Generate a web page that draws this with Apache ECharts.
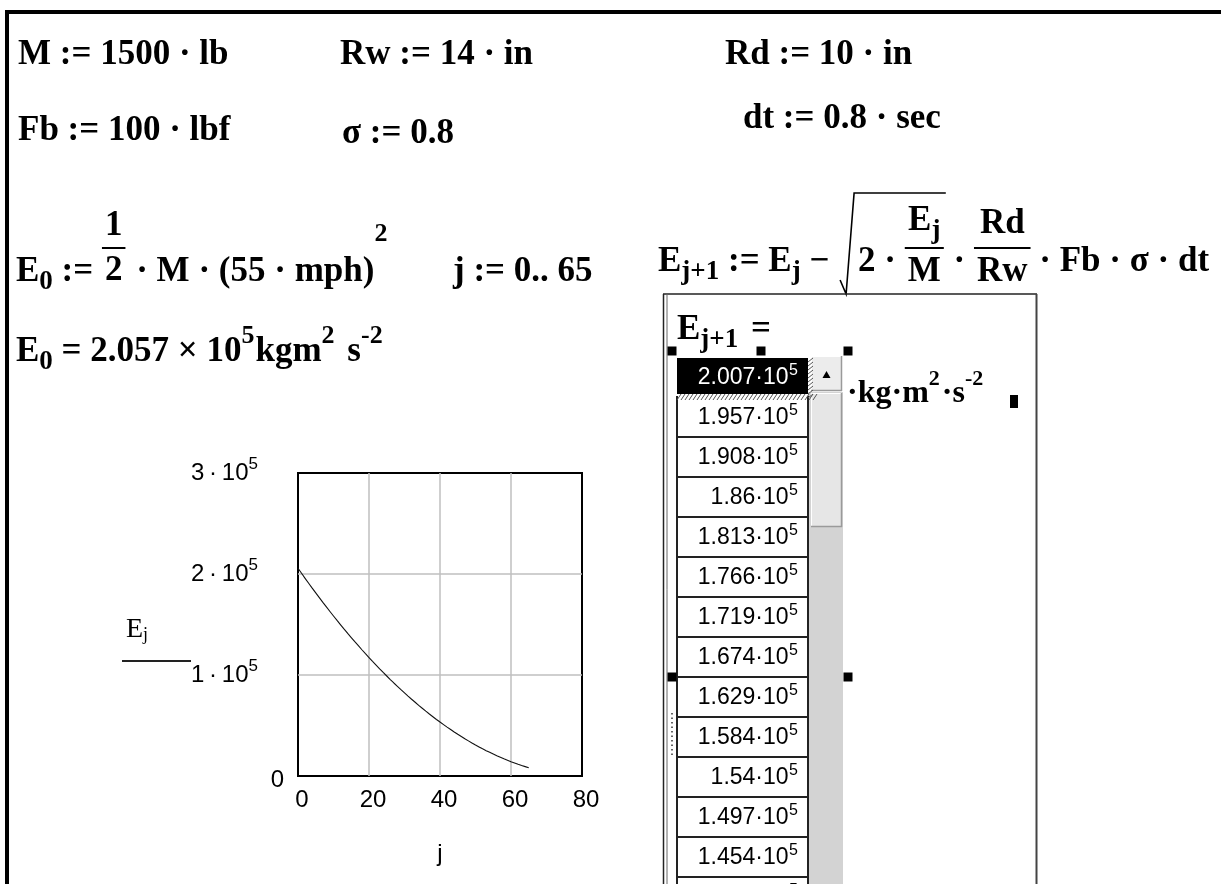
<!DOCTYPE html>
<html><head><meta charset="utf-8"><title>Mathcad energy plot</title>
<script src="https://cdn.jsdelivr.net/npm/echarts@6.0.0/dist/echarts.min.js"></script>
<style>html,body{margin:0;padding:0;background:#fff;overflow:hidden}#chart{width:1221px;height:884px}</style>
</head><body><div id="chart"></div>
<script>
// ---------------- data ----------------
const jIndex = [0,1,2,3,4,5,6,7,8,9,10,11,12,13,14,15,16,17,18,19,20,21,22,23,24,25,26,27,28,29,30,31,32,33,34,35,36,37,38,39,40,41,42,43,44,45,46,47,48,49,50,51,52,53,54,55,56,57,58,59,60,61,62,63,64,65];
const energy = [205700,200700,195700,190800,186000,181300,176600,171900,167400,162900,158400,154000,149700,145400,
  141200,137100,133000,129000,125000,121100,117300,113500,109800,106100,102500,99000,95500,92100,88800,85500,
  82300,79100,76000,73000,70000,67100,64200,61400,58700,56000,53400,50900,48400,46000,43600,41300,39100,36900,
  34800,32700,30700,28800,26900,25100,23400,21700,20000,18500,17000,15600,14200,12900,11600,10400,9300,8200];
const tableMantissa = ['2.007','1.957','1.908','1.86','1.813','1.766','1.719','1.674','1.629','1.584','1.54','1.497','1.454','1.412'];
const tableExponent = '5';
const xTickValues = [0,20,40,60,80];
const yTickValues = [0,100000,200000,300000];
const yTickMantissa = ['0','1','2','3'];
const yTickExponent = '5';

// ---------------- fonts / helpers ----------------
const SERIF = "'Liberation Serif','Times New Roman',serif";
const SANS = "'Liberation Sans',Arial,sans-serif";
const FS = 35;
const STY = {
  b:   {size: FS, weight: 'bold', fam: SERIF, dy: 0},
  sb:  {size: 27, weight: 'bold', fam: SERIF, dy: 10},
  sp:  {size: 26, weight: 'bold', fam: SERIF, dy: -16},
  sp2: {size: 26, weight: 'bold', fam: SERIF, dy: -38},
  u:   {size: 32, weight: 'bold', fam: SERIF, dy: 0},
  usp: {size: 22, weight: 'bold', fam: SERIF, dy: -15},
  cell:{size: 23, weight: 'normal', fam: SANS, dy: 1},
  csup:{size: 16, weight: 'normal', fam: SANS, dy: -6}
};
const mctx = document.createElement('canvas').getContext('2d');
function fstr(s){ return s.weight + ' ' + s.size + 'px ' + s.fam; }
function tw(t, s){ mctx.font = fstr(s); return mctx.measureText(t).width; }
const G = [];
function txt(x, y, text, s, align, color){
  G.push({type:'text', silent:true, z:10, style:{text:text, x:x, y:y, fontSize:s.size, fontWeight:s.weight, fontFamily:s.fam,
    fill: color || '#000', textAlign: align || 'left', align: align || 'left', textVerticalAlign:'middle', verticalAlign:'middle'}});
}
function run(x, y, parts){
  let cx = x;
  for (const p of parts){ const s = STY[p[1] || 'b']; txt(cx, y + s.dy, p[0], s); cx += tw(p[0], s) + (p[2] || 0); }
  return cx;
}
function partsW(parts){ return parts.reduce((a,p)=>a + tw(p[0], STY[p[1]||'b']) + (p[2]||0), 0); }
function line(x1,y1,x2,y2,c,w,dash){ G.push({type:'line', silent:true, z:10, shape:{x1,y1,x2,y2}, style:{stroke:c, lineWidth:w, lineDash:dash||null}}); }
function rect(x,y,wd,h,fill,stroke,lw,z){ G.push({type:'rect', silent:true, z:z||5, shape:{x:x,y:y,width:wd,height:h}, style:{fill:fill||'none', stroke:stroke||null, lineWidth:lw||1}}); }
function frac(x, yNum, yBar, yDen, num, den, pad){
  pad = pad === undefined ? 3 : pad;
  const wn = partsW(num), wd = partsW(den);
  const W = Math.max(wn, wd) + 2*pad;
  run(x + (W - wn)/2, yNum, num);
  run(x + (W - wd)/2, yDen, den);
  line(x, yBar, x + W, yBar, '#000', 2);
  return x + W;
}

// ---------------- worksheet frame ----------------
rect(6, 10, 1230, 4, '#000');
rect(5, 10, 4, 900, '#000');

// ---------------- definitions ----------------
run(18, 55, [['M := 1500 · lb']]);
run(340, 55, [['Rw := 14 · in']]);
run(725, 55, [['Rd := 10 · in']]);
run(18, 131, [['Fb := 100 · lbf']]);
run(342, 134, [['σ := 0.8']]);
run(743, 119, [['dt := 0.8 · sec']]);

let x = run(16, 272, [['E'],['0','sb'],[' := ']]);
x = frac(x, 226, 248, 271, [['1']], [['2']], 3);
run(x + 2, 272, [[' · M · (55 · mph)'],['2','sp2']]);
run(453, 272, [['j := 0.. 65']]);

run(16, 352, [['E'],['0','sb'],[' = 2.057 × 10'],['5','sp',1],['kgm'],['2','sp',4],[' s'],['-2','sp']]);

// recursion formula
const RM = 262;
x = run(658, RM, [['E'],['j+1','sb'],[' := E'],['j','sb'],[' − ']]);
const rx = x;
let x2 = run(rx + 20, RM, [['2 · ']]);
x2 = frac(x2, 221, 248, 272, [['E'],['j','sb']], [['M']]);
G.push({type:'polyline', silent:true, z:10, shape:{points:[[rx+2,280],[rx+8,294],[rx+16,193],[x2+2,193]]}, style:{stroke:'#000', lineWidth:1.6, fill:null}});
x = run(x2 + 1, RM, [[' · ']]);
x = frac(x, 224, 248, 272, [['Rd']], [['Rw']]);
run(x, RM, [[' · Fb · σ · dt']]);

// ---------------- result table ----------------
line(663, 294, 1037, 294, '#222', 1.5);
line(663.5, 294, 663.5, 900, '#222', 1.5);
line(667, 294, 667, 900, '#666', 1);
line(1036.5, 294, 1036.5, 900, '#444', 2);
run(677, 330, [['E'],['j+1','sb',4],[' =']]);

// scrollbar
rect(808, 392, 35, 520, '#d3d3d3');
rect(811, 356, 31, 35, '#ececec');
line(811, 356.5, 842, 356.5, '#fff', 1); line(811.5, 356, 811.5, 391, '#fff', 1);
line(811, 390.5, 842, 390.5, '#9a9a9a', 1.5); line(841.5, 356, 841.5, 391, '#9a9a9a', 1.5);
G.push({type:'polygon', silent:true, z:10, shape:{points:[[822.5,378],[830.5,378],[826.5,371]]}, style:{fill:'#000'}});
rect(811, 393, 31, 134, '#e6e6e6');
line(811, 393.5, 842, 393.5, '#fff', 1); line(811.5, 393, 811.5, 527, '#fff', 1);
line(811, 526.5, 842, 526.5, '#9a9a9a', 1.5); line(841.5, 393, 841.5, 527, '#9a9a9a', 1.5);

// cells
tableMantissa.forEach(function(m, i){
  const top = 357 + 40*i, mid = top + 20;
  let color = '#000';
  if (i === 0){ rect(677, 358, 131, 36, '#000', null, 1, 6); color = '#fff'; }
  else { line(677, top + 40, 808, top + 40, '#222', 2); }
  const sw = tw(tableExponent, STY.csup);
  txt(798, mid + STY.csup.dy, tableExponent, STY.csup, 'right', color);
  txt(798 - sw - 0.5, mid + STY.cell.dy, m + '·10', STY.cell, 'right', color);
});
line(677, 396, 677, 900, '#222', 2);
line(808, 396, 808, 900, '#222', 2);
// hatched focus border of the selected cell
for (let hx = 677; hx < 814; hx += 4) line(hx, 400, hx + 4, 394, '#555', 1);
for (let hy = 358; hy < 396; hy += 4) line(808, hy + 4, 813, hy, '#555', 1);

// selection handles
[[672,351],[761,351],[848,351],[672,677],[848,677]].forEach(function(p){ rect(p[0]-4.5, p[1]-4.5, 9, 9, '#000', null, 1, 12); });
rect(1010, 395, 8, 13, '#000', null, 1, 12);
line(672, 713, 672, 757, '#333', 1.5, [1.5, 3]);

// units
run(847, 394, [['·','u'],['kg','u'],['·','u'],['m','u'],['2','usp',2],['·','u'],['s','u'],['-2','usp']]);

// E_j label underline (Mathcad axis placeholder)
line(122, 661, 191, 661, '#222', 2);

// ---------------- chart ----------------
const option = {
  animation: false,
  backgroundColor: '#ffffff',
  grid: {left: 298, top: 473, width: 284, height: 303, show: true, borderColor: '#000', borderWidth: 2, backgroundColor: 'rgba(0,0,0,0)'},
  xAxis: {
    type: 'value', min: xTickValues[0], max: xTickValues[xTickValues.length-1], interval: xTickValues[1]-xTickValues[0],
    axisLine: {show: false}, axisTick: {show: false},
    splitLine: {show: true, showMinLine: false, showMaxLine: false, lineStyle: {color: '#bfbfbf', width: 1.5}},
    axisLabel: {margin: 12, fontSize: 24, fontFamily: SANS, color: '#000', padding: [0,0,0,8]},
    name: 'j', nameLocation: 'middle', nameGap: 66,
    nameTextStyle: {fontSize: 24, fontFamily: SANS, color: '#000'}
  },
  yAxis: {
    type: 'value', min: yTickValues[0], max: yTickValues[yTickValues.length-1], interval: yTickValues[1]-yTickValues[0],
    axisLine: {show: false}, axisTick: {show: false},
    splitLine: {show: true, showMinLine: false, showMaxLine: false, lineStyle: {color: '#bfbfbf', width: 1.5}},
    axisLabel: {
      margin: 14, color: '#000',
      formatter: function(v){
        const i = yTickValues.indexOf(v);
        const m = yTickMantissa[i];
        return v === 0 ? '{z|' + m + '}' : '{m|' + m + '\u2009·\u200910}{s|' + yTickExponent + '}{g|}';
      },
      rich: {
        z: {fontSize: 24, fontFamily: SANS, color: '#000', lineHeight: 34, padding: [8,0,0,0]},
        m: {fontSize: 24, fontFamily: SANS, color: '#000', lineHeight: 34},
        s: {fontSize: 17, fontFamily: SANS, color: '#000', lineHeight: 17, verticalAlign: 'top'},
        g: {width: 26, lineHeight: 34}
      }
    },
    name: '{e|E}{j|j}', nameLocation: 'middle', nameRotate: 0, nameGap: 161,
    nameTextStyle: {align: 'center', verticalAlign: 'middle', padding: [10,0,0,0],
      rich: {
        e: {fontSize: 28, fontFamily: SERIF, color: '#000', lineHeight: 30},
        j: {fontSize: 18, fontFamily: SERIF, color: '#000', lineHeight: 18, verticalAlign: 'bottom'}
      }}
  },
  series: [{
    type: 'line', silent: true, showSymbol: false, smooth: false,
    data: jIndex.map(function(j, i){ return [j, energy[i]]; }),
    lineStyle: {color: '#111', width: 1.1}
  }],
  graphic: {elements: G}
};
const chart = echarts.init(document.getElementById('chart'), null, {renderer: 'canvas', width: 1221, height: 884});
chart.setOption(option);
</script></body></html>
